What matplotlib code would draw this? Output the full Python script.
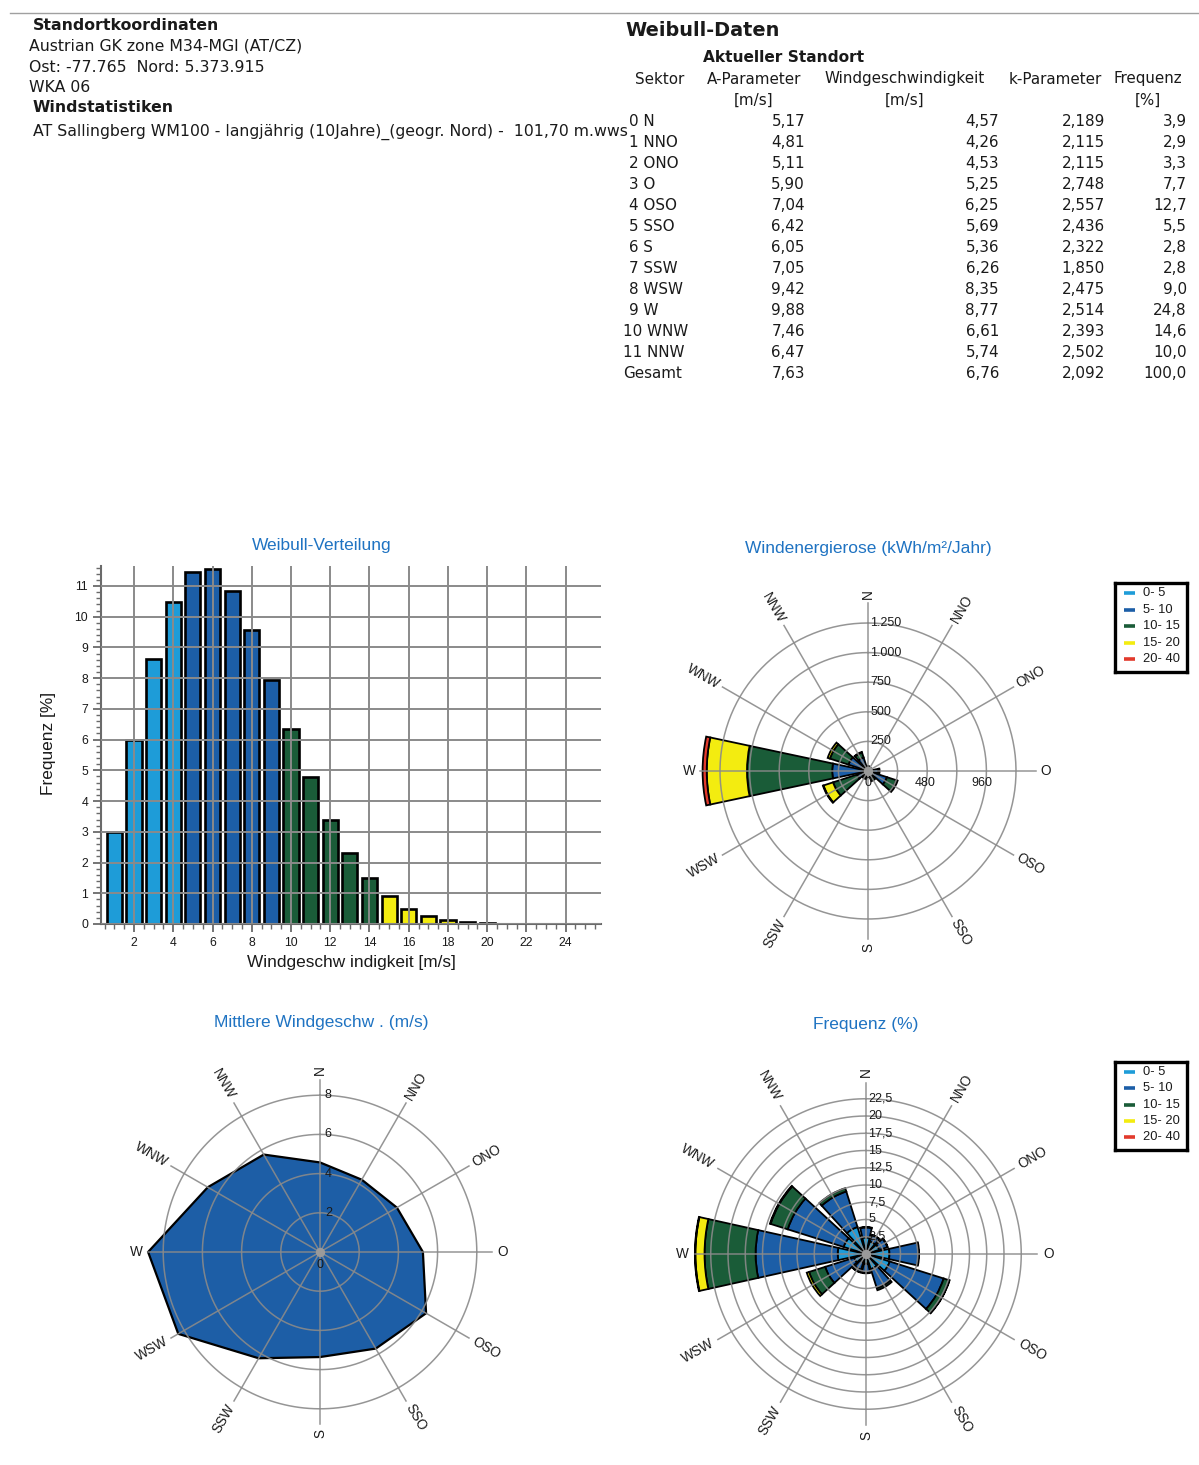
import numpy as np
import matplotlib
matplotlib.use("Agg")
import matplotlib.pyplot as plt
from matplotlib.lines import Line2D

W_PX, H_PX = 1199, 1465

# Weibull table per sector
sectors = ["N", "NNO", "ONO", "O", "OSO", "SSO", "S", "SSW", "WSW", "W", "WNW", "NNW"]
a_param = [5.17, 4.81, 5.11, 5.90, 7.04, 6.42, 6.05, 7.05, 9.42, 9.88, 7.46, 6.47]
mean_speed = [4.57, 4.26, 4.53, 5.25, 6.25, 5.69, 5.36, 6.26, 8.35, 8.77, 6.61, 5.74]
k_param = [2.189, 2.115, 2.115, 2.748, 2.557, 2.436, 2.322, 1.850, 2.475, 2.514, 2.393, 2.502]
sector_freq = [3.9, 2.9, 3.3, 7.7, 12.7, 5.5, 2.8, 2.8, 9.0, 24.8, 14.6, 10.0]
total_a, total_speed, total_k, total_freq = 7.63, 6.76, 2.092, 100.0

# Weibull distribution, all sectors
speed_bins = list(range(1, 21))
bin_freq = [2.98, 5.99, 8.62, 10.48, 11.44, 11.54, 10.85, 9.57, 7.94, 6.34,
            4.77, 3.37, 2.31, 1.50, 0.90, 0.50, 0.27, 0.13, 0.06, 0.02]

# speed classes [m/s]
class_labels = ["0- 5", "5- 10", "10- 15", "15- 20", "20- 40"]
class_edges = [0, 5, 10, 15, 20, 40]

# frequency [%] per sector and speed class
freq_0_5 = [2.4, 1.9, 2.0, 3.4, 3.6, 2.3, 1.4, 1.2, 1.8, 4.1, 3.4, 4.1]
freq_5_10 = [1.45, 0.97, 1.25, 4.2, 8.2, 2.9, 1.3, 1.2, 4.4, 11.9, 8.5, 5.4]
freq_10_15 = [0.05, 0.03, 0.05, 0.1, 0.85, 0.3, 0.1, 0.35, 2.45, 7.4, 2.6, 0.5]
freq_15_20 = [0, 0, 0, 0, 0.05, 0, 0, 0.05, 0.35, 1.33, 0.1, 0]
freq_20_40 = [0, 0, 0, 0, 0, 0, 0, 0, 0, 0.07, 0, 0]

# wind energy [kWh/m2/Jahr] per sector and speed class
energy_0_5 = [6, 4, 5, 8, 8, 5, 3, 3, 5, 12, 8, 9]
energy_5_10 = [30, 20, 25, 80, 160, 60, 28, 25, 90, 290, 165, 110]
energy_10_15 = [5, 3, 4, 10, 85, 25, 8, 30, 215, 720, 165, 45]
energy_15_20 = [0, 0, 0, 0, 10, 0, 0, 12, 85, 340, 20, 5]
energy_20_40 = [0, 0, 0, 0, 0, 0, 0, 0, 5, 35, 0, 0]

energy_rings = [250, 500, 750, 1000, 1250]
energy_ring_labels = ["250", "500", "750", "1.000", "1.250"]
energy_axis_labels = [0, 480, 960]
speed_rings = [2, 4, 6, 8]
freq_rings = [2.5, 5, 7.5, 10, 12.5, 15, 17.5, 20, 22.5]

CLASS_COLORS = ["#1e9cd8", "#1c5ea7", "#1a5c38", "#f3ec10", "#e23a2c"]
TITLE_BLUE = "#1f73c2"
GRID = "#8a8a8a"
TXT = "#1a1a1a"
SANS = "Liberation Sans"
HEAD = "DejaVu Sans"

fig = plt.figure(figsize=(W_PX / 100, H_PX / 100), dpi=100)
fig.patch.set_facecolor("white")


def fx(x):
    return x / W_PX


def fy(y):
    return 1 - y / H_PX


def box(x0, y0, x1, y1):
    return [fx(x0), fy(y1), (x1 - x0) / W_PX, (y1 - y0) / H_PX]


# ---------------- header ----------------
fig.add_artist(Line2D([fx(10), fx(1199)], [fy(13), fy(13)], color="#a0a0a0", lw=1.0))

hs = 11.3
fig.text(fx(33), fy(25), "Standortkoordinaten", fontsize=hs, fontweight="bold",
         family=HEAD, va="center", color=TXT)
fig.text(fx(29), fy(46), "Austrian GK zone M34-MGI (AT/CZ)", fontsize=hs,
         family=HEAD, va="center", color=TXT)
fig.text(fx(29), fy(67), "Ost: -77.765  Nord: 5.373.915", fontsize=hs,
         family=HEAD, va="center", color=TXT)
fig.text(fx(29), fy(87), "WKA 06", fontsize=hs, family=HEAD, va="center", color=TXT)
fig.text(fx(33), fy(108), "Windstatistiken", fontsize=hs, fontweight="bold",
         family=HEAD, va="center", color=TXT)
fig.text(fx(33), fy(132),
         "AT Sallingberg WM100 - langjährig (10Jahre)_(geogr. Nord) -  101,70 m.wws",
         fontsize=hs, family=HEAD, va="center", color=TXT)

# ---------------- Weibull table ----------------
ts = 10.9
fig.text(fx(625), fy(30), "Weibull-Daten", fontsize=13.9, fontweight="bold",
         family=HEAD, va="center", color=TXT)
fig.text(fx(703), fy(58), "Aktueller Standort", fontsize=11.1, fontweight="bold",
         family=HEAD, va="center", color=TXT)
for xc, txt in [(660, "Sektor"), (754, "A-Parameter"), (905, "Windgeschwindigkeit"),
                (1055, "k-Parameter"), (1148, "Frequenz")]:
    fig.text(fx(xc), fy(79), txt, fontsize=ts, family=HEAD, ha="center", va="center", color=TXT)
for xc, txt in [(754, "[m/s]"), (905, "[m/s]"), (1148, "[%]")]:
    fig.text(fx(xc), fy(100), txt, fontsize=ts, family=HEAD, ha="center", va="center", color=TXT)


def fmt(v, nd):
    return f"{v:.{nd}f}".replace(".", ",")


row_y0, row_dy = 121, 21.05
rows = [(f"{i} {s}", a_param[i], mean_speed[i], k_param[i], sector_freq[i])
        for i, s in enumerate(sectors)]
rows.append(("Gesamt", total_a, total_speed, total_k, total_freq))
for j, (lab, a, v, k, f) in enumerate(rows):
    y = fy(row_y0 + j * row_dy)
    x_lab = 629 if j < 10 else 623
    fig.text(fx(x_lab), y, lab, fontsize=ts, family=HEAD, va="center", color=TXT)
    fig.text(fx(805), y, fmt(a, 2), fontsize=ts, family=HEAD, ha="right", va="center", color=TXT)
    fig.text(fx(999), y, fmt(v, 2), fontsize=ts, family=HEAD, ha="right", va="center", color=TXT)
    fig.text(fx(1105), y, fmt(k, 3), fontsize=ts, family=HEAD, ha="right", va="center", color=TXT)
    fig.text(fx(1187), y, fmt(f, 1), fontsize=ts, family=HEAD, ha="right", va="center", color=TXT)

# ---------------- histogram ----------------
ax = fig.add_axes(box(100.7, 566, 601, 924))
bar_cls = [int(np.searchsorted(class_edges, v, side="right")) - 1 for v in speed_bins]
ax.bar(speed_bins, bin_freq, width=0.77, color=[CLASS_COLORS[c] for c in bar_cls],
       edgecolor="black", linewidth=1.9, zorder=1)
ax.set_xlim(0.3, 25.8)
ax.set_ylim(0, 11.65)
ax.set_xticks(range(2, 25, 2))
ax.set_yticks(range(0, 12))
ax.set_xticks(np.arange(0.5, 25.8, 0.5), minor=True)
ax.set_yticks(np.arange(0, 11.65, 0.2), minor=True)
ax.set_axisbelow(False)
ax.grid(True, which="major", color=GRID, lw=1.4)
for side in ("top", "right"):
    ax.spines[side].set_visible(False)
for side in ("left", "bottom"):
    ax.spines[side].set_color("#6a6a6a")
    ax.spines[side].set_linewidth(1.5)
ax.tick_params(which="major", length=6, width=1.3, color="#6a6a6a", labelsize=8.8,
               labelcolor=TXT, pad=3)
ax.tick_params(which="minor", length=3.5, width=1.0, color="#6a6a6a")
for lab in ax.get_xticklabels() + ax.get_yticklabels():
    lab.set_family(SANS)
ax.set_facecolor("none")
fig.text(fx(322), fy(546), "Weibull-Verteilung", fontsize=12.5, family=SANS,
         color=TITLE_BLUE, ha="center", va="center")
fig.text(fx(351), fy(962), "Windgeschw indigkeit [m/s]", fontsize=12.4, family=SANS,
         color=TXT, ha="center", va="center")
fig.text(fx(48), fy(743), "Frequenz [%]", fontsize=12.4, family=SANS, color=TXT,
         ha="center", va="center", rotation=90)


# ---------------- polar roses ----------------
def rose_axes(cx, cy, r_px, r_max):
    pax = fig.add_axes(box(cx - r_px, cy - r_px, cx + r_px, cy + r_px), projection="polar")
    pax.set_theta_zero_location("N")
    pax.set_theta_direction(-1)
    pax.set_ylim(0, r_max)
    pax.axis("off")
    return pax


def rose_grid(pax, rings, r_line, r_lab):
    t = np.linspace(0, 2 * np.pi, 400)
    for r in rings:
        pax.plot(t, np.full_like(t, r), color=GRID, lw=1.1, alpha=0.9, zorder=4)
    for i, name in enumerate(sectors):
        ang = 30 * i
        th = np.deg2rad(ang)
        pax.plot([th, th], [0, r_line], color=GRID, lw=1.1, alpha=0.9, zorder=4)
        rot = 90 - ang
        ha = "left"
        if rot <= -90:
            rot += 180
            ha = "right"
        pax.text(th, r_lab, name, rotation=rot, rotation_mode="anchor", ha=ha, va="center",
                 fontsize=9.8, family=SANS, color=TXT)
    pax.scatter([0], [0], s=45, color="#9a9a9a", zorder=6, linewidths=0)


def stacked_rose(pax, layers, width_deg):
    th = np.deg2rad(np.arange(12) * 30)
    bottom = np.zeros(12)
    for vals, col in zip(layers, CLASS_COLORS):
        vals = np.asarray(vals, dtype=float)
        m = vals > 0
        pax.bar(th[m], vals[m], width=np.deg2rad(width_deg), bottom=bottom[m], color=col,
                edgecolor="black", linewidth=1.3, align="center", zorder=2)
        bottom += vals


def legend_box(y0, y1):
    lax = fig.add_axes(box(1115, y0, 1187, y1))
    lax.set_xlim(1115, 1187)
    lax.set_ylim(y1, y0)
    lax.set_xticks([])
    lax.set_yticks([])
    for s in lax.spines.values():
        s.set_linewidth(2.4)
        s.set_color("black")
    step = (y1 - y0 - 23) / 4
    for i, (lab, col) in enumerate(zip(class_labels, CLASS_COLORS)):
        yy = y0 + 10 + i * step
        lax.plot([1124, 1135], [yy, yy], color=col, lw=2.6, solid_capstyle="butt")
        lax.text(1143, yy, lab, fontsize=9.3, family=SANS, va="center", color=TXT)


# energy rose
e_scale = 148 / 1250
ecx, ecy = 868, 771
eax = rose_axes(ecx, ecy, 205, 205 / e_scale)
stacked_rose(eax, [energy_0_5, energy_5_10, energy_10_15, energy_15_20, energy_20_40], 24)
rose_grid(eax, energy_rings, 168 / e_scale, 172 / e_scale)
for r, lab in zip(energy_rings, energy_ring_labels):
    eax.annotate(lab, xy=(0, r), xytext=(1.5, 0), textcoords="offset points", ha="left",
                 va="center", fontsize=9, family=SANS, color=TXT, zorder=7)
for v in energy_axis_labels:
    eax.annotate(str(v), xy=(np.pi / 2, v), xytext=(0, -9), textcoords="offset points",
                 ha="center", va="center", fontsize=9, family=SANS, color=TXT, zorder=7)
fig.text(fx(868), fy(548), "Windenergierose (kWh/m²/Jahr)", fontsize=12.5, family=SANS,
         color=TITLE_BLUE, ha="center", va="center")
legend_box(583, 672)

# mean wind speed rose
s_scale = 19.6
scx, scy = 320, 1252
sax = rose_axes(scx, scy, 200, 200 / s_scale)
th12 = np.deg2rad(np.arange(13) * 30)
sax.fill(th12, list(mean_speed) + [mean_speed[0]], facecolor="#1d5ea6", edgecolor="black",
         linewidth=1.6, zorder=2)
rose_grid(sax, speed_rings, 172 / s_scale, 177 / s_scale)
for r in speed_rings:
    sax.annotate(str(r), xy=(0, r), xytext=(3.5, 0), textcoords="offset points", ha="left",
                 va="center", fontsize=9, family=SANS, color=TXT, zorder=7)
sax.annotate("0", xy=(0, 0), xytext=(0, -9), textcoords="offset points", ha="center",
             va="center", fontsize=9, family=SANS, color=TXT, zorder=7)
fig.text(fx(321), fy(1022), "Mittlere Windgeschw . (m/s)", fontsize=12.5, family=SANS,
         color=TITLE_BLUE, ha="center", va="center")

# frequency rose
f_scale = 6.9
fcx, fcy = 866, 1254
fax = rose_axes(fcx, fcy, 200, 200 / f_scale)
stacked_rose(fax, [freq_0_5, freq_5_10, freq_10_15, freq_15_20, freq_20_40], 25)
rose_grid(fax, freq_rings, 171 / f_scale, 177 / f_scale)
for r in freq_rings:
    fax.annotate(fmt(r, 1).replace(",0", ""), xy=(0, r), xytext=(1.5, 0),
                 textcoords="offset points", ha="left", va="center", fontsize=9,
                 family=SANS, color=TXT, zorder=7)
fig.text(fx(866), fy(1025), "Frequenz (%)", fontsize=12.5, family=SANS,
         color=TITLE_BLUE, ha="center", va="center")
legend_box(1062, 1150)

fig.savefig("out.png", dpi=100, facecolor="white")
